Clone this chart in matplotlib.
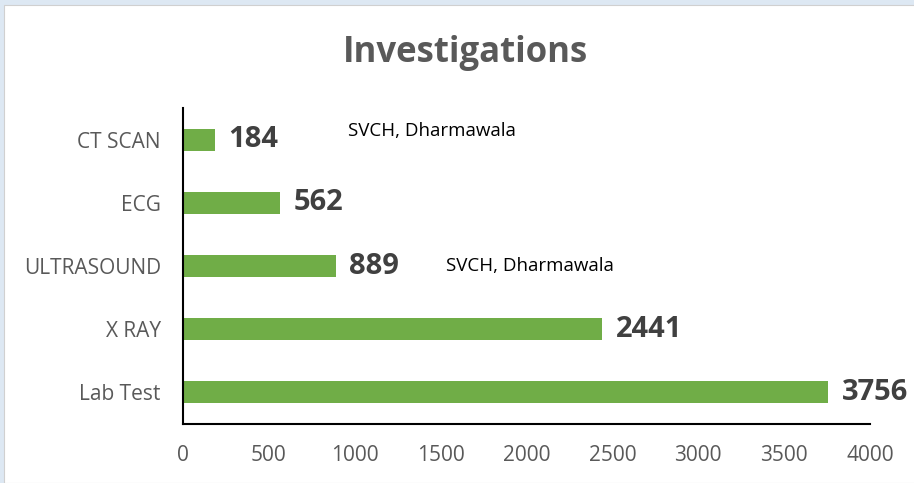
import matplotlib.pyplot as plt
from matplotlib.patches import Rectangle

categories = ["Lab Test", "X RAY", "ULTRASOUND", "ECG", "CT SCAN"]
values = [3756, 2441, 889, 562, 184]
x_ticks = [0, 500, 1000, 1500, 2000, 2500, 3000, 3500, 4000]

plt.rcParams['font.family'] = ['Open Sans', 'DejaVu Sans']

fig = plt.figure(figsize=(9.14, 4.83), dpi=100)
fig.patch.set_facecolor('#dde8f3')
# white chart panel inside the light blue frame
fig.patches.append(Rectangle((4 / 914, 0), 1, 1 - 5 / 483, transform=fig.transFigure,
                             facecolor='white', edgecolor='#d0d0d0', linewidth=0.8, zorder=-5))

ax = fig.add_axes([183 / 914, 1 - 424 / 483, (870 - 183) / 914, (424 - 108) / 483])
ax.set_facecolor('none')
ax.set_zorder(2)

pos = list(range(len(categories)))
ax.barh(pos, values, height=0.35, color='#70ad47')

for p, v in zip(pos, values):
    ax.text(v + 80, p, str(v), va='center', ha='left', fontsize=21,
            fontweight='bold', color='#404040')

ax.text(960, 4.13, "SVCH, Dharmawala", fontsize=13.5, color='black', va='center')
ax.text(1530, 2.0, "SVCH, Dharmawala", fontsize=13.5, color='black', va='center')

ax.set_xlim(0, 4000)
ax.set_ylim(-0.5, 4.5)
ax.set_yticks(pos)
ax.set_yticklabels(categories)
ax.set_xticks(x_ticks)
ax.tick_params(axis='both', length=0, labelsize=15, labelcolor='#595959')
ax.tick_params(axis='y', pad=16)
ax.tick_params(axis='x', pad=15)

for s in ['top', 'right']:
    ax.spines[s].set_visible(False)
for s in ['left', 'bottom']:
    ax.spines[s].set_linewidth(1.5)
    ax.spines[s].set_color('black')

fig.text(466 / 914, 1 - 53 / 483, "Investigations", ha='center', va='center',
         fontsize=25, fontweight='bold', color='#595959')

plt.savefig("out.png", dpi=100, facecolor=fig.get_facecolor())
